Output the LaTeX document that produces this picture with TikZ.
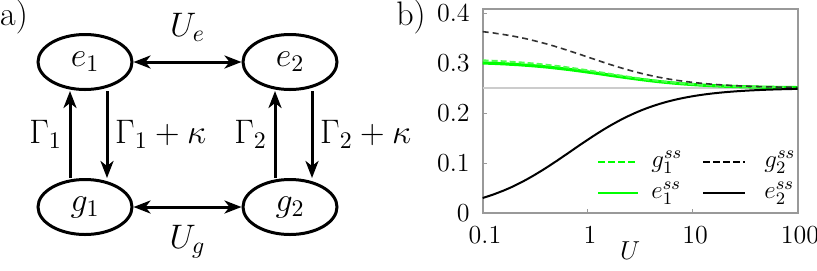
\RequirePackage{fix-cm}
\documentclass[tikz,border=0pt]{standalone}
\usepackage{tikz}
\usetikzlibrary{arrows.meta,positioning,shapes.geometric}

\begin{document}
\begin{tikzpicture}[
  x=0.5pt, y=0.5pt,
  node distance=43.5pt and 54pt,
  lvl/.style={draw, ellipse, line width=1.5pt, minimum width=47pt, minimum height=27.5pt, inner sep=1pt, font=\fontsize{17}{20}\selectfont},
  arr/.style={-{Stealth[length=8.5pt, width=6.5pt, inset=2.5pt]}, line width=1.5pt},
  darr/.style={{Stealth[length=8.5pt, width=6.5pt, inset=2.5pt]}-{Stealth[length=8.5pt, width=6.5pt, inset=2.5pt]}, line width=1.5pt},
  lab/.style={font=\fontsize{17}{20}\selectfont},
  ticklab/.style={font=\fontsize{13}{15}\selectfont, inner sep=0pt},
  legtxt/.style={font=\fontsize{12.5}{14}\selectfont, anchor=west, inner sep=0pt},
  frame/.style={draw=black!40, line width=1pt},
  curve/.style={line width=1pt}
]
\useasboundingbox (0,0) rectangle (817,270);

% a) level scheme
\node[lab] (pa) at (14,253) {a)};
\node[lvl] (e1) at (85,208) {$e_1$};
\node[lvl, right=of e1] (e2) {$e_2$};
\node[lvl, below=of e1] (g1) {$g_1$};
\node[lvl, below=of e2] (g2) {$g_2$};
\draw[darr] (e1) -- node[above=6pt, lab]{$U_e$} (e2);
\draw[darr] (g1) -- node[below=5pt, lab]{$U_g$} (g2);
\draw[arr] ([xshift=-7.5pt]g1.north) -- node[left, lab]{$\Gamma_1$} ([xshift=-7.5pt]e1.south);
\draw[arr] ([xshift=11pt]e1.south) -- node[right, lab]{$\Gamma_1+\kappa$} ([xshift=11pt]g1.north);
\draw[arr] ([xshift=-7.5pt]g2.north) -- node[left, lab]{$\Gamma_2$} ([xshift=-7.5pt]e2.south);
\draw[arr] ([xshift=11pt]e2.south) -- node[right, lab]{$\Gamma_2+\kappa$} ([xshift=11pt]g2.north);

% b) steady state populations
\node[lab] (pb) at (411,253) {b)};
\draw[frame] (482.7,57) rectangle (797.7,261);
\foreach \v/\t in {0/0, 1/0.1, 2/0.2, 3/0.3, 4/0.4} {
  \node[ticklab, anchor=east] (yl\v) at (470,57+50*\v) {\t};
  \draw[black!40, line width=0.5pt] (482.7,57+50*\v) -- ++(4,0);
}
\foreach \k/\t in {0/0.1, 1/1, 2/10, 3/100} {
  \node[ticklab] (xl\k) at (485+105*\k,35) {\t};
  \draw[black!40, line width=0.5pt] (482.7+105*\k,57) -- ++(0,4);
}
\node[ticklab] (xlab) at (630,19) {$U$};
\draw[black!20, line width=0.6pt] (482.7,182) -- (797.7,182);

\draw[curve, green, line width=1.6pt] plot[domain=-1:2, samples=90]
  ({587.7+105*\x}, {57+500*(0.25+0.0535/(1+exp(2.302585*\x)/1.5))});
\draw[curve, green!70!white, dash pattern=on 3pt off 1.5pt] plot[domain=-1:2, samples=90]
  ({587.7+105*\x}, {57+500*(0.25+0.059/(1+exp(2.302585*\x)/1.5))});
\draw[curve, black!80, line width=0.8pt, dash pattern=on 3pt off 2pt] plot[domain=-1:2, samples=90]
  ({587.7+105*\x}, {57+500*(0.25+0.124/(1+exp(2.302585*\x)))});
\draw[curve, black] plot[domain=-1:2, samples=90]
  ({587.7+105*\x}, {57+500*(0.25-0.2514/(1+exp(2.302585*\x)/0.7))});

% legend
\draw[curve, green, line width=1.2pt, dash pattern=on 3.5pt off 1.5pt] (598,108) -- (638,108);
\node[legtxt] (lg1) at (651,108) {$g_1^{ss}$};
\draw[curve, black, line width=1.2pt, dash pattern=on 3.5pt off 1.5pt] (703,108) -- (745,108);
\node[legtxt] (lg2) at (764,108) {$g_2^{ss}$};
\draw[curve, green, line width=1.2pt] (598,77) -- (638,77);
\node[legtxt] (le1) at (651,77) {$e_1^{ss}$};
\draw[curve, black, line width=1.2pt] (703,77) -- (745,77);
\node[legtxt] (le2) at (764,77) {$e_2^{ss}$};
\end{tikzpicture}
\end{document}
